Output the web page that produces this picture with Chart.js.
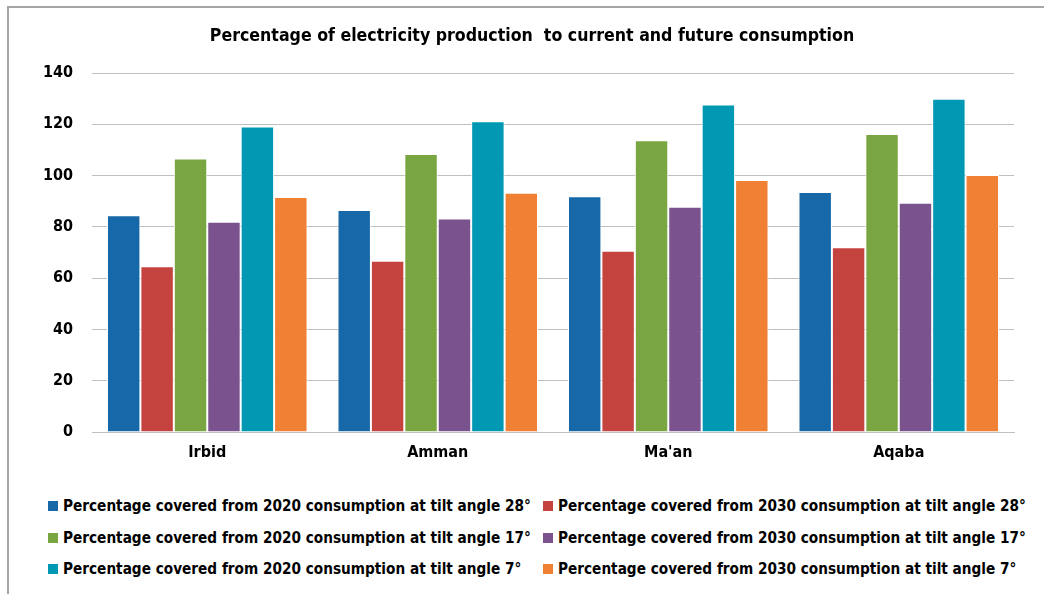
<!DOCTYPE html>
<html>
<head>
<meta charset="utf-8">
<script src="https://cdn.jsdelivr.net/npm/chart.js@4"></script>
<style>
  body { margin: 0; background: #fff; }
  #frame { position: absolute; left: 7px; top: 6px; width: 1037px; height: 588px;
           border-left: 2px solid #a6a6a6; border-top: 2px solid #a6a6a6; }
  #wrap { position: absolute; left: 0; top: 0; width: 1036px; height: 464px; }
  #title { position: absolute; left: 0; width: 1064px; top: 25px; text-align: center;
           font: bold 17.6px 'Liberation Sans Narrow', 'DejaVu Sans Condensed', sans-serif; color: #000; }
  #legend { position: absolute; left: 0; top: 0; font: bold 15.2px 'Liberation Sans Narrow', 'DejaVu Sans Condensed', sans-serif; color: #000; }
  .lg { position: absolute; white-space: nowrap; display: flex; align-items: center; }
  .lg i { display: inline-block; width: 10px; height: 10px; margin-right: 5px; }
</style>
</head>
<body>
<div id="frame">
  <div id="wrap"><canvas id="c"></canvas></div>
</div>
<div id="title">Percentage of electricity production &nbsp;to current and future consumption</div>
<div id="legend"></div>
<script>
// ==================== DATA ====================
const cities = ['Irbid', 'Amman', "Ma'an", 'Aqaba'];
const seriesNames = [
  'Percentage covered from 2020 consumption at tilt angle 28°',
  'Percentage covered from 2030 consumption at tilt angle 28°',
  'Percentage covered from 2020 consumption at tilt angle 17°',
  'Percentage covered from 2030 consumption at tilt angle 17°',
  'Percentage covered from 2020 consumption at tilt angle 7°',
  'Percentage covered from 2030 consumption at tilt angle 7°'
];
const cov2020_28 = [84.5, 86.6, 91.9, 93.6];
const cov2030_28 = [64.6, 66.8, 70.7, 72.0];
const cov2020_17 = [106.7, 108.4, 113.8, 116.2];
const cov2030_17 = [82.0, 83.3, 87.8, 89.4];
const cov2020_7  = [119.1, 121.2, 127.7, 130.0];
const cov2030_7  = [91.6, 93.3, 98.3, 100.2];
const yTicks = [0, 20, 40, 60, 80, 100, 120, 140];

const colors = ['#1668a8', '#c4433f', '#7aa642', '#7a528e', '#0098b2', '#f08033'];
const values = [cov2020_28, cov2030_28, cov2020_17, cov2030_17, cov2020_7, cov2030_7];
const FONT = "'Liberation Sans Narrow', 'DejaVu Sans Condensed', sans-serif";

new Chart(document.getElementById('c'), {
  type: 'bar',
  data: {
    labels: cities,
    datasets: values.map((v, i) => ({
      label: seriesNames[i],
      data: v,
      backgroundColor: colors[i],
      borderColor: '#ffffff',
      borderWidth: 1,
      barPercentage: 1,
      categoryPercentage: 0.87
    }))
  },
  options: {
    responsive: true, maintainAspectRatio: false, animation: false,
    // title is an html div so it can sit centred on the whole frame
    layout: { padding: { left: 0, right: 31, top: 65, bottom: 0 } },
    plugins: {
      legend: { display: false },
      tooltip: { enabled: false }
    },
    scales: {
      x: {
        grid: { display: false, drawTicks: false },
        border: { color: '#bfbfbf', width: 1 },
        ticks: { color: '#000', font: { family: FONT, size: 16, weight: 'bold' }, padding: 11 },
        afterFit: s => { s.height = 40; }
      },
      y: {
        min: 0, max: 140,
        afterBuildTicks: s => { s.ticks = yTicks.map(v => ({ value: v })); },
        grid: { color: '#bfbfbf', lineWidth: 1, drawTicks: false },
        border: { display: false },
        ticks: { color: '#000', font: { family: FONT, size: 16, weight: 'bold' }, padding: 19 },
        afterFit: s => { s.width = 83; }
      }
    }
  }
});

// legend laid out in two aligned columns like the original
const lg = document.getElementById('legend');
const colX = [53, 548];
const rowY = [506, 538, 569];
seriesNames.forEach((n, i) => {
  const d = document.createElement('div');
  d.className = 'lg';
  d.style.left = (colX[i % 2] - 5) + 'px';
  d.style.top = (rowY[Math.floor(i / 2)] - 10) + 'px';
  d.style.height = '20px';
  d.innerHTML = '<i style="background:' + colors[i] + '"></i>' + n;
  lg.appendChild(d);
});
</script>
</body>
</html>
